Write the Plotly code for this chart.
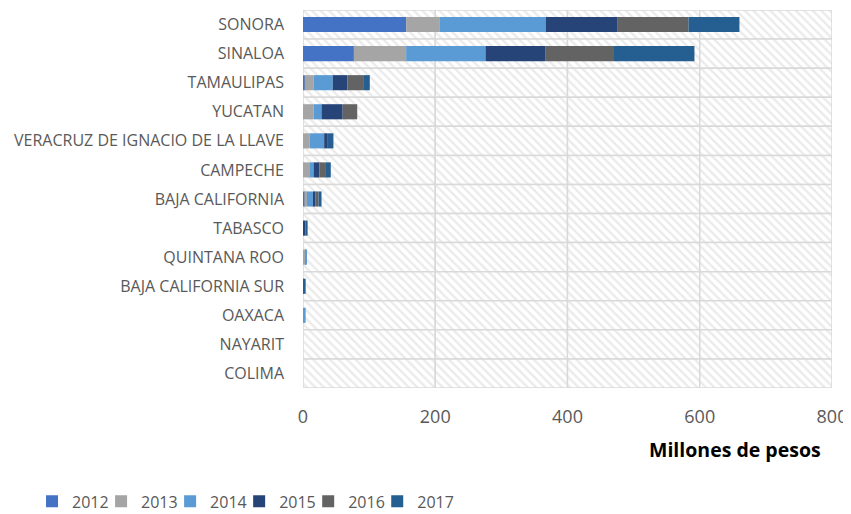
import numpy as np
import plotly.graph_objects as go

states = ["SONORA", "SINALOA", "TAMAULIPAS", "YUCATAN", "VERACRUZ DE IGNACIO DE LA LLAVE",
          "CAMPECHE", "BAJA CALIFORNIA", "TABASCO", "QUINTANA ROO", "BAJA CALIFORNIA SUR",
          "OAXACA", "NAYARIT", "COLIMA"]
years = ["2012", "2013", "2014", "2015", "2016", "2017"]
v2012 = [156, 77, 2.5, 0, 0, 0, 2, 0, 0, 0, 0, 0, 0]
v2013 = [51, 79, 13.5, 16, 10, 9.5, 4, 0, 4.5, 0, 0, 0, 0]
v2014 = [160, 120, 29, 12, 22, 6.5, 9, 0, 1.5, 1, 4, 0, 0]
v2015 = [108, 91, 22, 32, 5.5, 9, 4, 3.5, 0, 0, 0, 0, 0]
v2016 = [108, 102, 24, 22, 0, 8.5, 4.5, 0, 0, 0, 0, 0, 0]
v2017 = [77, 123, 10, 0, 8.5, 8.5, 4.5, 3.5, 0, 3, 0, 0, 0]
series = [v2012, v2013, v2014, v2015, v2016, v2017]
colors = ["#4472C4", "#A5A5A5", "#5B9BD5", "#264478", "#636363", "#255E91"]
x_ticks = [0, 200, 400, 600, 800]

FONT = "Open Sans"
fig = go.Figure()

# hatched plot-area background, split at gridlines so outlines act as gridlines
for k in range(len(x_ticks) - 1):
    w = x_ticks[k + 1] - x_ticks[k]
    fig.add_trace(go.Bar(
        y=states, x=[w] * len(states), base=[x_ticks[k]] * len(states),
        orientation="h", width=1, showlegend=False, hoverinfo="skip",
        marker=dict(color="white",
                    line=dict(color="#d9d9d9", width=1.5),
                    pattern=dict(shape="\\", fgcolor="#d6d6d6", bgcolor="white",
                                 size=6, solidity=0.4)),
    ))

legend_names = ["legend"] + [f"legend{i}" for i in range(2, len(years) + 1)]
base = np.zeros(len(states))
for i, (yr, vals, c) in enumerate(zip(years, series, colors)):
    vals = np.array(vals, dtype=float)
    fig.add_trace(go.Bar(
        y=states, x=vals, base=base.copy(), orientation="h", name=yr,
        width=0.52, marker=dict(color=c, line=dict(width=0)),
        legend=legend_names[i],
    ))
    base = base + vals

# the page adds an 8px body margin, so the figure is 8px smaller each way
layout_legends = {}
for i, ln in enumerate(legend_names):
    layout_legends[ln] = dict(
        orientation="h", xref="container", yref="container",
        x=0.0285 + i * 0.0819, y=0.025, xanchor="left", yanchor="middle",
        font=dict(size=16, color="#595959"), itemwidth=30,
        bgcolor="rgba(0,0,0,0)")

fig.update_layout(
    width=843, height=506,
    margin=dict(l=295, r=19, t=2, b=126, autoexpand=False),
    barmode="overlay",
    plot_bgcolor="white", paper_bgcolor="white",
    font=dict(family=FONT, color="#595959"),
    showlegend=True,
    xaxis=dict(range=[0, 800], tickvals=x_ticks, showgrid=False, zeroline=False,
               showline=False, tickfont=dict(size=18, color="#595959"),
               ticklabelstandoff=16, automargin=False, ticklabeloverflow="allow"),
    yaxis=dict(categoryorder="array", categoryarray=states, autorange=False,
               range=[len(states) - 0.5, -0.5], showgrid=False, zeroline=False,
               showline=False, tickfont=dict(size=16, color="#595959"),
               ticklabelstandoff=18, automargin=False),
    annotations=[dict(text="<b>Millones de pesos</b>", xref="paper", yref="paper",
                      x=0.983, y=-0.164, xanchor="right", yanchor="middle",
                      showarrow=False, font=dict(size=19.5, color="black", family=FONT))],
    **layout_legends,
)

fig.write_html("out.html")
